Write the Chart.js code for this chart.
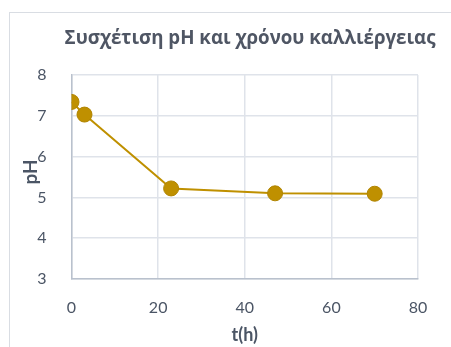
<!DOCTYPE html>
<html>
<head>
<meta charset="utf-8">
<script src="https://cdn.jsdelivr.net/npm/chart.js@4/dist/chart.umd.min.js"></script>
<style>
  html, body { margin: 0; padding: 0; background: #fff; }
  #wrap { position: relative; width: 451px; height: 347px; overflow: hidden; }
  #frame { position: absolute; left: 9px; top: 12px; width: 600px; height: 500px; border: 1px solid #d9dde3; }
  canvas { position: absolute; left: 0; top: 0; }
</style>
</head>
<body>
<div id="wrap">
  <div id="frame"></div>
  <canvas id="c" width="451" height="347"></canvas>
</div>
<script>
// Culture time (h) and measured pH
const hours = [0, 3, 23, 47, 70];
const phValues = [7.34, 7.03, 5.22, 5.10, 5.09];
const xTicks = [0, 20, 40, 60, 80];
const yTicks = [3, 4, 5, 6, 7, 8];

const chartTitle = 'Συσχέτιση pH και χρόνου καλλιέργειας';
const xTitle = 't(h)';
const yTitle = 'pH';

const textColor = '#4b5565';
const gold = '#bf9000';
const FONT = 'Lato, "Open Sans", sans-serif';
const TITLE_FONT = '"Open Sans", Lato, sans-serif';

const points = hours.map((h, i) => ({ x: h, y: phValues[i] }));

// Title and axis titles placed by hand, like a spreadsheet chart
const labelsPlugin = {
  id: 'labels',
  afterDraw(chart) {
    const ctx = chart.ctx;
    const area = chart.chartArea;
    ctx.save();
    ctx.fillStyle = '#4f5664';
    ctx.textAlign = 'center';
    ctx.textBaseline = 'middle';
    // size the title so it spans the same width as the plot header
    let size = 17;
    ctx.font = 'bold ' + size + 'px ' + TITLE_FONT;
    const w = ctx.measureText(chartTitle).width;
    size = Math.min(19, size * 371 / w);
    ctx.font = 'bold ' + size.toFixed(2) + 'px ' + TITLE_FONT;
    ctx.fillText(chartTitle, 250, 39);

    ctx.fillStyle = textColor;
    ctx.font = 'bold 18px ' + FONT;
    ctx.fillText(xTitle, (area.left + area.right) / 2, 335);

    ctx.translate(31, 172);
    ctx.rotate(-Math.PI / 2);
    ctx.font = 'bold 19px ' + FONT;
    ctx.fillText(yTitle, 0, 0);
    ctx.restore();
  }
};

new Chart(document.getElementById('c'), {
  type: 'scatter',
  data: {
    datasets: [{
      data: points,
      showLine: true,
      borderColor: gold,
      backgroundColor: gold,
      borderWidth: 2,
      pointRadius: 7.5,
      pointHoverRadius: 7.5,
      pointBorderColor: '#b08400',
      pointBorderWidth: 1
    }]
  },
  options: {
    responsive: false,
    animation: false,
    devicePixelRatio: 1,
    layout: { padding: { left: 0, right: 33, top: 75, bottom: 0 } },
    plugins: {
      legend: { display: false },
      title: { display: false },
      tooltip: { enabled: false }
    },
    scales: {
      x: {
        type: 'linear',
        min: 0,
        max: 80,
        afterBuildTicks(scale) { scale.ticks = xTicks.map(v => ({ value: v })); },
        afterFit(scale) { scale.height = 68; },
        grid: {
          color: '#dfe3ea',
          lineWidth: 1.5,
          drawTicks: false
        },
        border: { color: '#b9c1cd', width: 1.5 },
        ticks: {
          color: textColor,
          font: { family: FONT, size: 16 },
          padding: 19
        }
      },
      y: {
        type: 'linear',
        min: 3,
        max: 8,
        afterBuildTicks(scale) { scale.ticks = yTicks.map(v => ({ value: v })); },
        afterFit(scale) { scale.width = 71.5; },
        grid: {
          color: '#dfe3ea',
          lineWidth: 1.5,
          drawTicks: false
        },
        border: { color: '#b9c1cd', width: 1.5 },
        ticks: {
          color: textColor,
          font: { family: FONT, size: 16 },
          padding: 25
        }
      }
    }
  },
  plugins: [labelsPlugin]
});
</script>
</body>
</html>
